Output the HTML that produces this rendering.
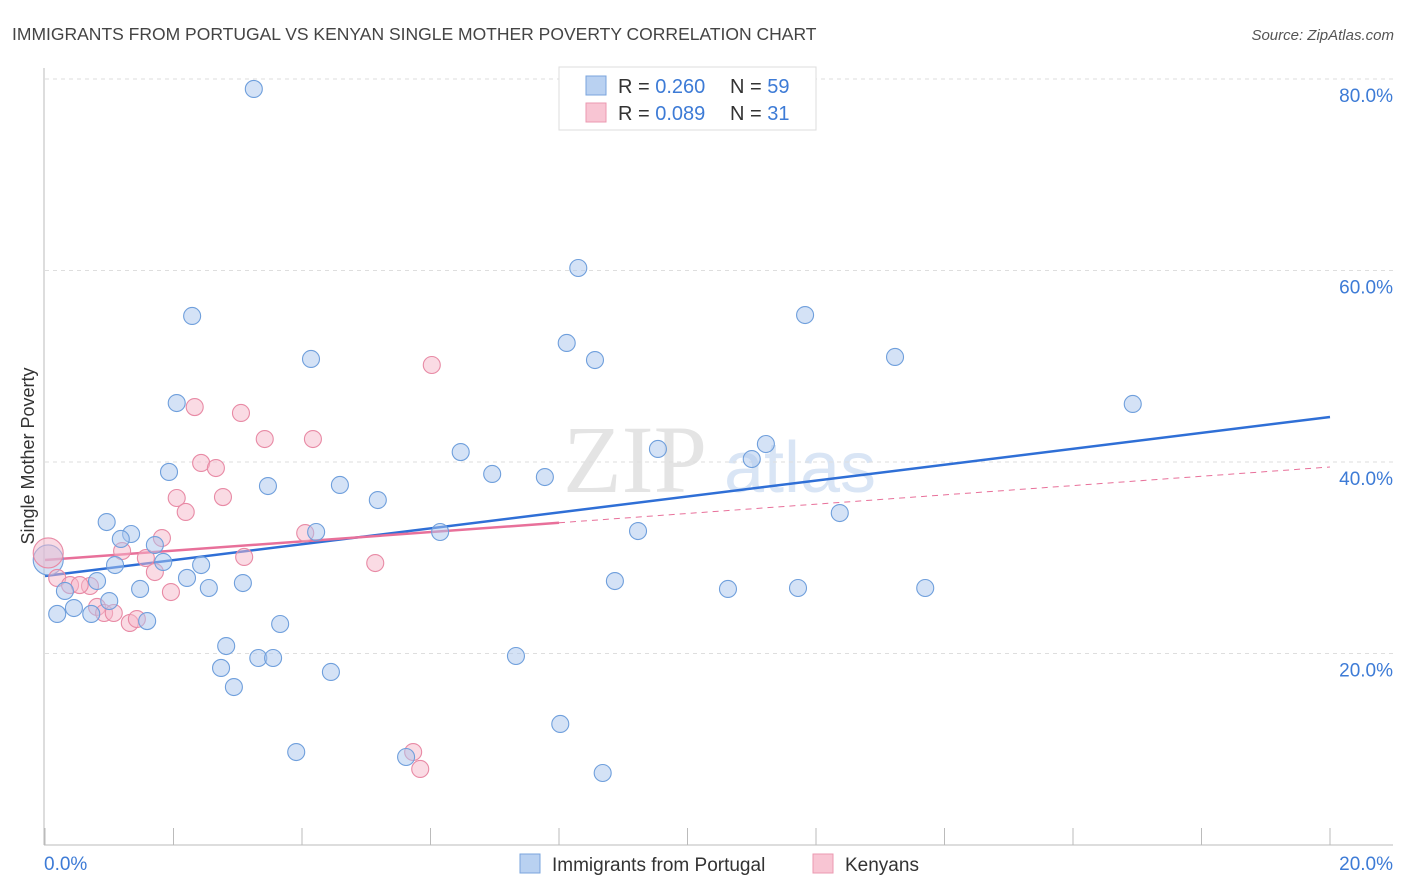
<!DOCTYPE html>
<html><head><meta charset="utf-8"><style>
body{margin:0;background:#fff;font-family:"Liberation Sans",sans-serif;}
#wrap{position:relative;width:1406px;height:892px;overflow:hidden;}
</style></head><body>
<div id="wrap">
<svg id="svg" width="1406" height="892" xmlns="http://www.w3.org/2000/svg">
<text x="12" y="40" font-size="17.5" fill="#444">IMMIGRANTS FROM PORTUGAL VS KENYAN SINGLE MOTHER POVERTY CORRELATION CHART</text>
<text x="1394" y="40" font-size="15" fill="#555" font-style="italic" text-anchor="end">Source: ZipAtlas.com</text>
<text x="635" y="492" font-size="96" fill="#e4e4e4" font-family="Liberation Serif" text-anchor="middle">ZIP</text>
<text x="800" y="492" font-size="72" fill="#d9e5f5" text-anchor="middle">atlas</text>
<g id="grid"></g><g id="axes"></g><g id="trend"></g><g id="pts"></g>
<text transform="translate(34,456) rotate(-90)" font-size="18" fill="#333" text-anchor="middle">Single Mother Poverty</text>
<g>
<rect x="559" y="67" width="257" height="63" fill="#fff" stroke="#ddd"/>
<rect x="586" y="76" width="20" height="19" fill="#b9d1f1" stroke="#7aa4dd"/>
<rect x="586" y="103" width="20" height="19" fill="#f8c5d3" stroke="#eb99b0"/>
<text x="618" y="93" font-size="20" fill="#333">R = <tspan fill="#3d7bd6">0.260</tspan></text>
<text x="730" y="93" font-size="20" fill="#333">N = <tspan fill="#3d7bd6">59</tspan></text>
<text x="618" y="120" font-size="20" fill="#333">R = <tspan fill="#3d7bd6">0.089</tspan></text>
<text x="730" y="120" font-size="20" fill="#333">N = <tspan fill="#3d7bd6"> 31</tspan></text>
</g>
<g>
<rect x="520" y="854" width="20" height="19" fill="#b9d1f1" stroke="#7aa4dd"/>
<text x="552" y="871" font-size="19" fill="#333">Immigrants from Portugal</text>
<rect x="813" y="854" width="20" height="19" fill="#f8c5d3" stroke="#eb99b0"/>
<text x="845" y="871" font-size="19" fill="#333">Kenyans</text>
</g>
</svg>
</div>
<script>
const blueX=[3.25,8.30,2.29,11.83,8.12,4.14,8.56,13.23,16.93,2.05,6.47,9.54,11.22,11.00,1.93,6.96,7.78,3.47,4.59,5.18,0.96,1.34,1.18,4.22,6.15,9.23,12.37,1.71,1.09,1.84,2.43,2.21,0.81,3.08,8.87,1.48,2.55,10.63,11.72,13.70,0.31,1.00,0.45,0.19,0.72,1.59,3.66,2.82,3.32,3.55,7.33,2.74,4.45,2.94,8.02,3.91,5.62,8.68];
const blueY=[78.96,60.26,55.25,55.35,52.43,50.76,50.65,50.97,46.06,46.16,41.04,41.36,41.88,40.31,38.96,38.75,38.43,37.49,37.60,36.03,33.73,32.48,31.96,32.69,32.69,32.79,34.67,31.33,29.24,29.56,29.24,27.89,27.57,27.36,27.57,26.74,26.84,26.74,26.84,26.84,26.53,25.48,24.75,24.13,24.13,23.39,23.08,20.78,19.53,19.53,19.74,18.49,18.07,16.50,12.64,9.71,9.19,7.52];
const pinkX=[6.02,2.33,3.05,3.42,4.17,2.43,2.66,2.05,2.77,2.19,1.82,1.20,1.57,3.10,4.05,5.14,1.71,0.19,0.39,0.70,0.54,1.96,0.81,0.92,1.07,1.32,1.43,5.73,5.84];
const pinkY=[50.13,45.74,45.12,42.40,42.40,39.90,39.37,36.24,36.34,34.78,32.06,30.70,29.97,30.08,32.58,29.45,28.51,27.89,27.15,27.05,27.15,26.42,24.86,24.23,24.23,23.19,23.60,9.71,7.94];
const bigBlue=[0.05,29.77];
const bigPink=[0.05,30.50];
const blueTrend=[28.09,44.70];
const pinkTrend=[29.77,39.48];
const pinkSolidEnd=8;
const yTicks=[20,40,60,80];
const xTickVals=[0,2,4,6,8,10,12,14,16,18,20];
const NS="http://www.w3.org/2000/svg";
const sx=v=>45+v*64.25, sy=v=>845-v*9.575;
function mk(tag,attrs,parent){const e=document.createElementNS(NS,tag);for(const k in attrs)e.setAttribute(k,attrs[k]);document.getElementById(parent).appendChild(e);return e;}
yTicks.forEach(t=>{
 const g=mk('line',{x1:45,x2:1393,y1:sy(t),y2:sy(t),stroke:'#dedede','stroke-dasharray':'4,4'},'grid');
 
 
 const l=mk('text',{x:1393,y:sy(t)+23,'font-size':19,fill:'#3d7bd6','text-anchor':'end'},'grid');
 l.textContent=t.toFixed(1)+'%';
 
 
});
let a=mk('line',{x1:44,x2:44,y1:68,y2:845,stroke:'#bbb'},'axes');


a=mk('line',{x1:44,x2:1393,y1:845,y2:845,stroke:'#bbb'},'axes');


xTickVals.forEach(t=>{
 const e=mk('line',{x1:sx(t),x2:sx(t),y1:828,y2:845,stroke:'#bbb'},'axes');
 
 
});
[[0,'start'],[20,'end']].forEach(([t,anc])=>{
 const e=mk('text',{x:t===0?44:1393,y:870,'font-size':19,fill:'#3d7bd6','text-anchor':anc},'axes');
 e.textContent=t.toFixed(1)+'%';
 
 
});
let tl=mk('line',{x1:sx(0),y1:sy(blueTrend[0]),x2:sx(20),y2:sy(blueTrend[1]),stroke:'#2f6fd6','stroke-width':2.5},'trend');


const pAt=v=>pinkTrend[0]+(pinkTrend[1]-pinkTrend[0])*v/20;
tl=mk('line',{x1:sx(0),y1:sy(pinkTrend[0]),x2:sx(pinkSolidEnd),y2:sy(pAt(pinkSolidEnd)),stroke:'#e8709a','stroke-width':2.5},'trend');


tl=mk('line',{x1:sx(pinkSolidEnd),y1:sy(pAt(pinkSolidEnd)),x2:sx(20),y2:sy(pinkTrend[1]),stroke:'#e8709a','stroke-width':1,'stroke-dasharray':'6,5'},'trend');


function dot(x,y,r,fill,stroke,name){
 const c=mk('circle',{cx:sx(x),cy:sy(y),r:r,fill:fill,'fill-opacity':0.5,stroke:stroke,'stroke-width':1.1},'pts');
 
 
}
dot(bigBlue[0],bigBlue[1],15,'#a9c6ee','#6f9fdc','point-portugal');
dot(bigPink[0],bigPink[1],15,'#f6b8c9','#e88aa5','point-kenyans');
pinkX.forEach((x,i)=>dot(x,pinkY[i],8.5,'#f6b8c9','#e88aa5','point-kenyans'));
blueX.forEach((x,i)=>dot(x,blueY[i],8.5,'#a9c6ee','#6f9fdc','point-portugal'));
</script>
</body></html>
